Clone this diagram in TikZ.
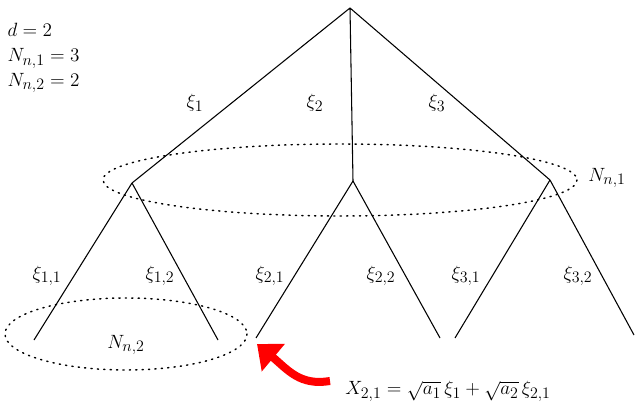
\documentclass[tikz,border=0pt]{standalone}
\usepackage{amsmath}
\usetikzlibrary{arrows.meta}
\DeclareMathSizes{14.4}{14.4}{12}{10}

\begin{document}
\begin{tikzpicture}[x=0.75pt,y=-0.75pt,
    font=\fontsize{14.4}{17}\selectfont,
    branch/.style={line width=0.8pt},
    ring/.style={line width=1.1pt, dash pattern=on 0.9pt off 3.9pt, line cap=round},
    lbl/.style={inner sep=1pt}]
  \useasboundingbox (0,0) rectangle (636,406);
  % tree points
  \coordinate (root) at (350,8);
  \coordinate (v1) at (132,183);
  \coordinate (v2) at (353,181);
  \coordinate (v3) at (550,180);
  \coordinate (l11) at (34,340);
  \coordinate (l12) at (218,340);
  \coordinate (l21) at (256,338);
  \coordinate (l22) at (440,338);
  \coordinate (l31) at (455,338);
  \coordinate (l32) at (634,335);
  % branches
  \draw[branch] (root) -- (v1) (root) -- (v2) (root) -- (v3);
  \draw[branch] (v1) -- (l11) (v1) -- (l12);
  \draw[branch] (v2) -- (l21) (v2) -- (l22);
  \draw[branch] (v3) -- (l31) (v3) -- (l32);
  % branch labels
  \node[lbl] (x1) at (195,103) {$\xi_1$};
  \node[lbl] (x2) at (315,103) {$\xi_2$};
  \node[lbl] (x3) at (437,103) {$\xi_3$};
  \node[lbl] (x11) at (47,276) {$\xi_{1,1}$};
  \node[lbl] (x12) at (160,276) {$\xi_{1,2}$};
  \node[lbl] (x21) at (270,276) {$\xi_{2,1}$};
  \node[lbl] (x22) at (381,276) {$\xi_{2,2}$};
  \node[lbl] (x31) at (466,276) {$\xi_{3,1}$};
  \node[lbl] (x32) at (578,276) {$\xi_{3,2}$};
  % groups
  \draw[ring] (340,180) ellipse [x radius=237, y radius=36];
  \node[lbl] (n1) at (607,178) {$N_{n,1}$};
  \draw[ring] (126,334) ellipse [x radius=121, y radius=36];
  \node[lbl] (n2) at (126,345) {$N_{n,2}$};
  % parameters
  \node[lbl, anchor=north west, align=left] (par) at (6,22)
    {$d=2$\\[1.5pt] $N_{n,1}=3$\\[1.5pt] $N_{n,2}=2$};
  % formula and pointer
  \node[lbl] (eq) at (448,391) {$X_{2,1}=\sqrt{a_1}\,\xi_1+\sqrt{a_2}\,\xi_{2,1}$};
  \coordinate (tip) at (257,344);
  \draw[red, line width=6pt, -{Triangle[width=26pt,length=16pt]}]
    (330,381) .. controls (300,386) and (288,370) .. (tip);
\end{tikzpicture}
\end{document}
